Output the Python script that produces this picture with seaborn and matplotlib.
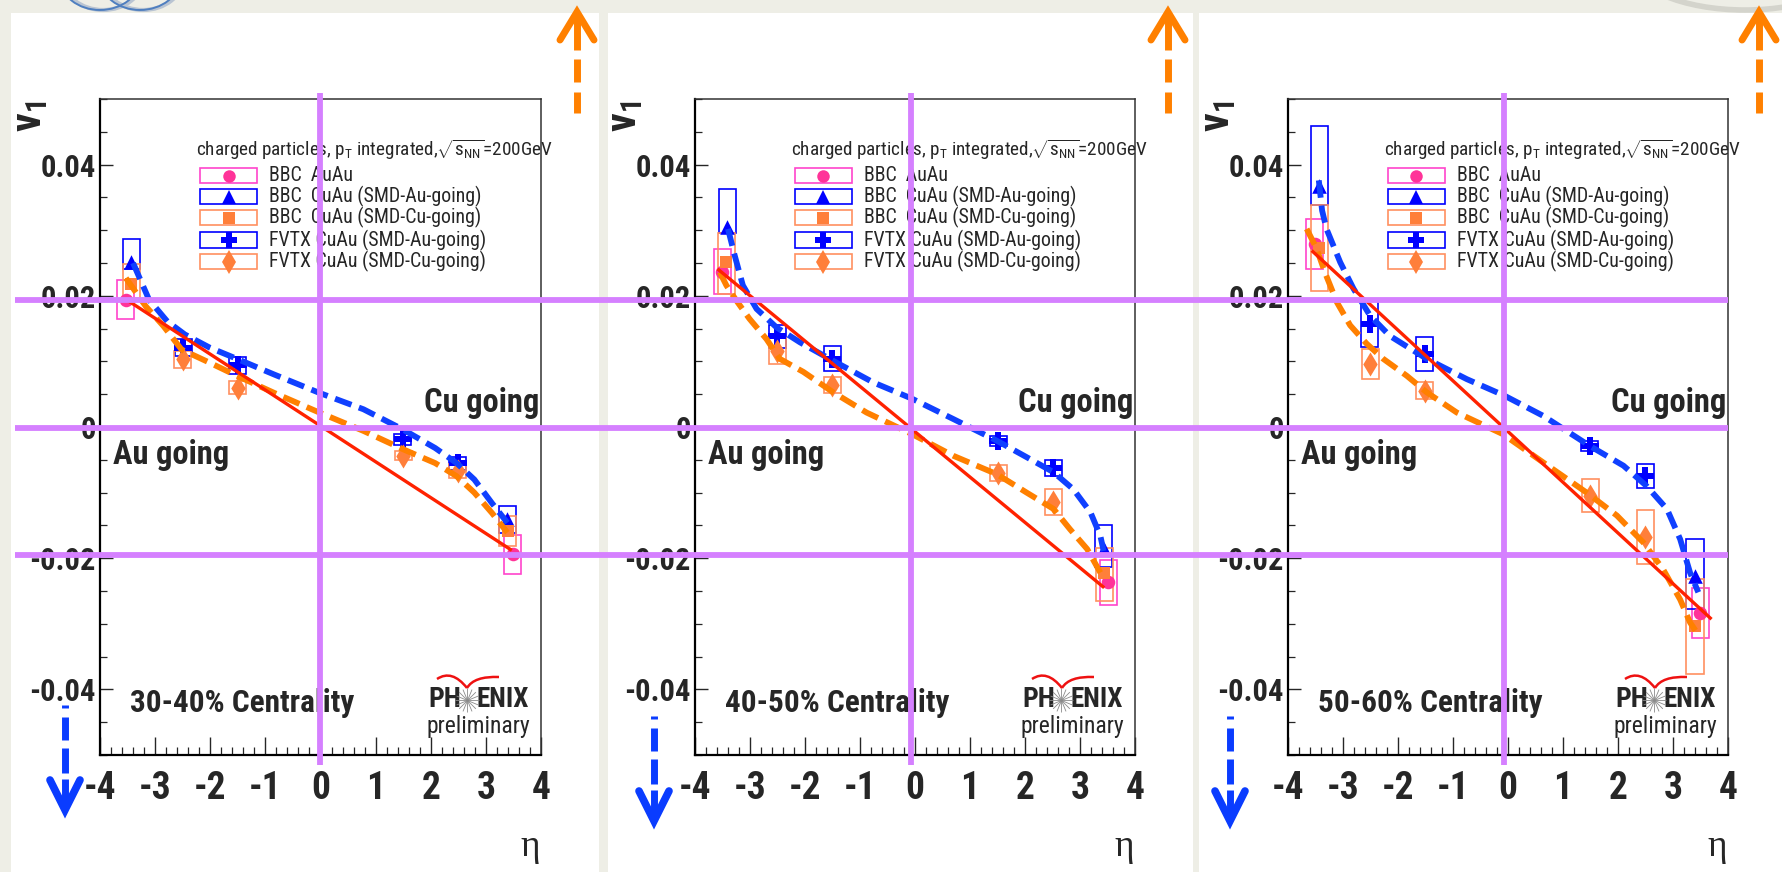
import matplotlib
matplotlib.use("Agg")
import matplotlib.pyplot as plt
from matplotlib import font_manager as fm
from matplotlib.patches import Rectangle, PathPatch, Ellipse
from matplotlib.path import Path
from matplotlib.lines import Line2D
from matplotlib.ticker import FixedLocator, FixedFormatter, MultipleLocator
import seaborn as sns

# ---------------------------------------------------------------- data
CENTRALITY = ["30-40% Centrality", "40-50% Centrality", "50-60% Centrality"]

# BBC AuAu (one list per centrality class)
ETA_BBC_AUAU = [[-3.53, 3.49], [-3.50, 3.51], [-3.51, 3.50]]
V1_BBC_AUAU = [[0.0194, -0.0194], [0.0237, -0.0237], [0.0279, -0.0283]]
SYS_BBC_AUAU = [[0.0030, 0.0030], [0.0035, 0.0035], [0.0038, 0.0038]]

# BBC CuAu, SMD Au-going
ETA_BBC_AU = [[-3.43, 3.39], [-3.41, 3.43], [-3.43, 3.40]]
V1_BBC_AU = [[0.0251, -0.0141], [0.0305, -0.0186], [0.0367, -0.0227]]
SYS_UP_BBC_AU = [[0.0035, 0.0020], [0.0058, 0.0036], [0.0092, 0.0056]]
SYS_DN_BBC_AU = [[0.0010, 0.0020], [0.0010, 0.0028], [0.0029, 0.0050]]

# BBC CuAu, SMD Cu-going
ETA_BBC_CU = [[-3.43, 3.40], [-3.43, 3.44], [-3.43, 3.40]]
V1_BBC_CU = [[0.0218, -0.0159], [0.0252, -0.0222], [0.0273, -0.0303]]
SYS_UP_BBC_CU = [[0.0031, 0.0023], [0.0043, 0.0038], [0.0065, 0.0071]]
SYS_DN_BBC_CU = [[0.0021, 0.0023], [0.0049, 0.0043], [0.0065, 0.0074]]

# FVTX CuAu, SMD Au-going
ETA_FVTX_AU = [[-2.49, -1.50, 1.49, 2.49], [-2.50, -1.50, 1.51, 2.51], [-2.51, -1.51, 1.49, 2.50]]
V1_FVTX_AU = [[0.0121, 0.0094, -0.0019, -0.0055], [0.0138, 0.0104, -0.0021, -0.0062],
              [0.0157, 0.0111, -0.0029, -0.0075]]
SYS_FVTX_AU = [[0.0013, 0.0013, 0.0008, 0.0010], [0.0017, 0.0019, 0.0008, 0.0012],
               [0.0035, 0.0026, 0.0008, 0.0018]]

# FVTX CuAu, SMD Cu-going
ETA_FVTX_CU = [[-2.50, -1.50, 1.50, 2.49], [-2.50, -1.50, 1.51, 2.51], [-2.50, -1.51, 1.50, 2.50]]
V1_FVTX_CU = [[0.0103, 0.0060, -0.0044, -0.0067], [0.0116, 0.0064, -0.0070, -0.0114],
              [0.0096, 0.0055, -0.0105, -0.0168]]
SYS_FVTX_CU = [[0.0013, 0.0010, 0.0007, 0.0011], [0.0020, 0.0012, 0.0012, 0.0020],
               [0.0023, 0.0013, 0.0025, 0.0041]]

# fit curves
FIT_AU_ETA = [
    [-3.40, -3.11, -2.78, -2.46, -2.01, -1.49, -0.84, -0.02, 0.78, 1.50, 2.08, 2.47, 2.79, 3.11, 3.39],
    [-3.40, -3.28, -3.13, -2.88, -2.52, -2.09, -1.49, -0.76, -0.05, 0.70, 1.49, 2.03, 2.52, 2.88, 3.19, 3.37, 3.43],
    [-3.44, -3.38, -3.30, -3.05, -2.81, -2.51, -2.15, -1.48, -0.75, -0.07, 0.64, 1.49, 2.10, 2.52, 2.89, 3.13, 3.31, 3.46],
]
FIT_AU_V1 = [
    [0.0250, 0.0194, 0.0161, 0.0141, 0.0121, 0.0103, 0.0080, 0.0052, 0.0027, -0.0004, -0.0032, -0.0055,
     -0.0080, -0.0116, -0.0146],
    [0.0302, 0.0262, 0.0216, 0.0180, 0.0152, 0.0129, 0.0101, 0.0068, 0.0043, 0.0012, -0.0021, -0.0046,
     -0.0069, -0.0095, -0.0130, -0.0166, -0.0189],
    [0.0376, 0.0330, 0.0302, 0.0251, 0.0211, 0.0170, 0.0139, 0.0104, 0.0073, 0.0048, 0.0017, -0.0029,
     -0.0059, -0.0090, -0.0125, -0.0171, -0.0222, -0.0252],
]
FIT_CU_ETA = [
    [-3.53, -3.17, -2.85, -2.52, -2.01, -1.49, -0.84, -0.02, 0.78, 1.50, 2.08, 2.47, 2.79, 3.11, 3.39],
    [-3.55, -3.43, -3.25, -3.01, -2.70, -2.46, -2.03, -1.49, -0.88, -0.05, 0.70, 1.49, 2.03, 2.52, 2.82, 3.13, 3.37],
    [-3.66, -3.48, -3.33, -3.11, -2.87, -2.57, -2.27, -1.84, -1.48, -0.93, -0.09, 0.64, 1.43, 1.98, 2.46,
     2.82, 3.13, 3.31, 3.43],
]
FIT_CU_V1 = [
    [0.0227, 0.0184, 0.0154, 0.0118, 0.0098, 0.0077, 0.0052, 0.0022, -0.0006, -0.0034, -0.0055, -0.0075,
     -0.0100, -0.0131, -0.0161],
    [0.0236, 0.0216, 0.0193, 0.0165, 0.0134, 0.0104, 0.0084, 0.0053, 0.0022, -0.0011, -0.0044, -0.0072,
     -0.0100, -0.0125, -0.0156, -0.0186, -0.0222],
    [0.0302, 0.0272, 0.0236, 0.0190, 0.0155, 0.0127, 0.0104, 0.0078, 0.0053, 0.0022, -0.0011, -0.0054,
     -0.0100, -0.0135, -0.0176, -0.0217, -0.0263, -0.0298, -0.0313],
]
FIT_AUAU_ETA = [[-3.50, 3.47], [-3.59, 3.44], [-3.57, 3.70]]
FIT_AUAU_V1 = [[0.0193, -0.0188], [0.0241, -0.0245], [0.0269, -0.0293]]

X_TICKS = [-4, -3, -2, -1, 0, 1, 2, 3, 4]
X_TICKLABELS = ["-4", "-3", "-2", "-1", "0", "1", "2", "3", "4"]
Y_TICKS = [-0.04, -0.02, 0.0, 0.02, 0.04]
Y_TICKLABELS = ["-0.04", "-0.02", "0", "0.02", "0.04"]

LEGEND_TITLE = r"charged particles, p$_{T}$ integrated,$\sqrt{s_{NN}}$=200GeV"
LEGEND_LABELS = ["BBC  AuAu", "BBC  CuAu (SMD-Au-going)", "BBC  CuAu (SMD-Cu-going)",
                 "FVTX CuAu (SMD-Au-going)", "FVTX CuAu (SMD-Cu-going)"]


# ---------------------------------------------------------------- style
def first_font(candidates):
    for name in candidates:
        try:
            fm.findfont(fm.FontProperties(family=name), fallback_to_default=False)
            return name
        except ValueError:
            continue
    return "Liberation Sans"


SANS = first_font(["Roboto Condensed", "Liberation Sans Narrow", "Liberation Sans"])
# narrow faces take the nominal sizes; a regular face is set smaller to keep the widths
K = 1.0 if SANS != "Liberation Sans" else 0.86

sns.set_style("ticks")
plt.rcParams["font.family"] = [SANS, "Liberation Sans", "DejaVu Sans"]
plt.rcParams["mathtext.fontset"] = "custom"
plt.rcParams["mathtext.rm"] = SANS
plt.rcParams["mathtext.it"] = SANS
plt.rcParams["mathtext.bf"] = SANS + ":bold"

PAGE = "#eeeee6"
PINK = "#ff3399"
PINK_BOX = "#ff44cc"
BLUE = "#0000ff"
BLUE_FIT = "#1040ff"
ORANGE = "#ff7f3a"
ORANGE_BOX = "#ff9060"
ORANGE_FIT = "#ff8000"
RED = "#ff2200"
PURPLE = "#d580ff"
ARROW_BLUE = "#0a3cff"
ARROW_ORANGE = "#ff8000"

W, H = 1783, 872
fig = plt.figure(figsize=(W / 100, H / 100), dpi=100)
fig.patch.set_facecolor(PAGE)


def fx(px):
    return px / W


def fy(py):
    return 1 - py / H


def fig_line(xs, ys, **kw):
    fig.add_artist(Line2D([fx(x) for x in xs], [fy(y) for y in ys],
                          transform=fig.transFigure, **kw))


PANEL_BG = [(11, 599), (608, 1193), (1199, 1783)]
AX_X = [(100, 541), (695, 1135), (1288, 1728)]
AX_TOP, AX_BOT = 99, 755
ZERO_LINE_X = [320, 911, 1504]
UP_ARROW_X = [577, 1168, 1759]
DOWN_ARROW_X = [65, 654, 1230]
DOWN_ARROW_TIP = [810, 821, 821]

# slide header: edges of the logos peeking in above the panels
for cx, col, lw in [(103, "#b9c4d2", 3.0), (143, "#b9c4d2", 3.0), (100, "#4f7fbf", 1.4), (140, "#4f7fbf", 1.4)]:
    fig.add_artist(Ellipse((fx(cx), fy(-22)), 80 / W, 64 / H, transform=fig.transFigure,
                           fill=False, edgecolor=col, lw=lw, zorder=-6))
fig.add_artist(Ellipse((fx(1745), fy(-40)), 230 / W, 100 / H, transform=fig.transFigure,
                       fill=False, edgecolor="#d4d4cc", lw=4, zorder=-6))

for (x0, x1) in PANEL_BG:
    fig.add_artist(Rectangle((fx(x0), 0), fx(x1) - fx(x0), fy(13), transform=fig.transFigure,
                             facecolor="white", edgecolor="none", zorder=-5))

BW = 0.155  # half width of systematic boxes in eta


def boxes(ax, eta, v1, up, dn, color):
    for e, v, u, d in zip(eta, v1, up, dn):
        ax.add_patch(Rectangle((e - BW, v - d), 2 * BW, u + d, fill=False,
                               edgecolor=color, lw=1.2, zorder=2))


def points(ax, eta, v1, marker, size, color):
    sns.scatterplot(x=eta, y=v1, ax=ax, marker=marker, s=size, color=color,
                    linewidth=0, zorder=3, legend=False)


def curve(ax, eta, v1, color, lw, dashed):
    sns.lineplot(x=eta, y=v1, ax=ax, color=color, lw=lw, sort=False, estimator=None,
                 legend=False, zorder=4)
    ln = ax.lines[-1]
    if dashed:
        ln.set_dashes((3.0, 1.35))
    ln.set_solid_capstyle("butt")
    ln.set_dash_capstyle("butt")


for i in range(3):
    lpx, rpx = AX_X[i]
    ax = fig.add_axes([fx(lpx), fy(AX_BOT), fx(rpx - lpx), (AX_BOT - AX_TOP) / H])
    ax.set_facecolor("none")
    ax.set_xlim(-4, 4)
    ax.set_ylim(-0.05, 0.05)

    for side in ["left", "bottom"]:
        ax.spines[side].set_linewidth(1.6)
        ax.spines[side].set_color("black")
    for side in ["top", "right"]:
        ax.spines[side].set_linewidth(1.1)
        ax.spines[side].set_color("#333333")

    ax.xaxis.set_major_locator(FixedLocator(X_TICKS))
    ax.xaxis.set_major_formatter(FixedFormatter(X_TICKLABELS))
    ax.xaxis.set_minor_locator(MultipleLocator(0.2))
    ax.yaxis.set_major_locator(FixedLocator(Y_TICKS))
    ax.yaxis.set_major_formatter(FixedFormatter(Y_TICKLABELS))
    ax.yaxis.set_minor_locator(MultipleLocator(0.005))
    ax.tick_params(axis="x", which="major", direction="in", length=13, width=1.0,
                   labelsize=27 * K, pad=11, top=False)
    ax.tick_params(axis="x", which="minor", direction="in", length=6, width=0.9, top=False)
    ax.tick_params(axis="y", which="major", direction="in", length=9.5, width=1.0,
                   labelsize=22 * K, pad=3, right=False)
    ax.tick_params(axis="y", which="minor", direction="in", length=4.8, width=0.9, right=False)
    for lab in ax.get_xticklabels() + ax.get_yticklabels():
        lab.set_fontweight("bold")
    ax.set_xlabel("")
    ax.set_ylabel("")

    # systematic boxes
    boxes(ax, ETA_BBC_AUAU[i], V1_BBC_AUAU[i], SYS_BBC_AUAU[i], SYS_BBC_AUAU[i], PINK_BOX)
    boxes(ax, ETA_BBC_AU[i], V1_BBC_AU[i], SYS_UP_BBC_AU[i], SYS_DN_BBC_AU[i], BLUE)
    boxes(ax, ETA_BBC_CU[i], V1_BBC_CU[i], SYS_UP_BBC_CU[i], SYS_DN_BBC_CU[i], ORANGE_BOX)
    boxes(ax, ETA_FVTX_AU[i], V1_FVTX_AU[i], SYS_FVTX_AU[i], SYS_FVTX_AU[i], BLUE)
    boxes(ax, ETA_FVTX_CU[i], V1_FVTX_CU[i], SYS_FVTX_CU[i], SYS_FVTX_CU[i], ORANGE_BOX)

    # points
    points(ax, ETA_BBC_AUAU[i], V1_BBC_AUAU[i], "o", 95, PINK)
    points(ax, ETA_BBC_AU[i], V1_BBC_AU[i], "^", 110, BLUE)
    points(ax, ETA_BBC_CU[i], V1_BBC_CU[i], "s", 85, ORANGE)
    points(ax, ETA_FVTX_AU[i], V1_FVTX_AU[i], "P", 160, BLUE)
    points(ax, ETA_FVTX_CU[i], V1_FVTX_CU[i], "d", 150, ORANGE)

    # fits
    curve(ax, FIT_AU_ETA[i], FIT_AU_V1[i], BLUE_FIT, 4.2, True)
    curve(ax, FIT_CU_ETA[i], FIT_CU_V1[i], ORANGE_FIT, 4.2, True)
    curve(ax, FIT_AUAU_ETA[i], FIT_AUAU_V1[i], RED, 2.4, False)

    # texts
    ax.text(0.03, 0.457, "Au going", transform=ax.transAxes, fontsize=23.5 * K, fontweight="bold",
            ha="left", va="center")
    ax.text(0.995, 0.537, "Cu going", transform=ax.transAxes, fontsize=23.5 * K, fontweight="bold",
            ha="right", va="center")
    ax.text(0.068, 0.079, CENTRALITY[i], transform=ax.transAxes, fontsize=22.5 * K, fontweight="bold",
            ha="left", va="center")

    # legend
    ax.text(0.218, 0.922, LEGEND_TITLE, transform=ax.transAxes, fontsize=13.8 * K,
            ha="left", va="center")
    leg_y = [0.883, 0.851, 0.819, 0.785, 0.752]
    leg_style = [("o", PINK, PINK_BOX, 9), ("^", BLUE, BLUE, 10), ("s", ORANGE, ORANGE_BOX, 9),
                 ("P", BLUE, BLUE, 12), ("d", ORANGE, ORANGE_BOX, 12)]
    for y, lab, (mk, mc, bc, ms) in zip(leg_y, LEGEND_LABELS, leg_style):
        ax.add_patch(Rectangle((0.227, y - 0.0115), 0.129, 0.023, transform=ax.transAxes,
                               fill=False, edgecolor=bc, lw=1.2, zorder=5))
        ax.plot([0.2915], [y], marker=mk, ms=ms, color=mc, mew=0, transform=ax.transAxes,
                zorder=6, clip_on=False)
        ax.text(0.383, y, lab, transform=ax.transAxes, fontsize=14.3 * K, ha="left", va="center")

    # experiment tag
    ax.text(0.744, 0.084, "PH", transform=ax.transAxes, fontsize=20 * K, fontweight="bold",
            ha="left", va="center")
    ax.text(0.853, 0.084, "ENIX", transform=ax.transAxes, fontsize=19.5 * K, fontweight="bold",
            ha="left", va="center")
    ax.text(0.857, 0.044, "preliminary", transform=ax.transAxes, fontsize=17 * K,
            ha="center", va="center")
    sx, sy = 0.832, 0.084
    for k in range(8):
        ax.plot([sx], [sy], marker=(2, 0, 22.5 * k), ms=17, mew=0.6, color="#8a8a8a",
                transform=ax.transAxes, clip_on=False, zorder=6)

    # eta label
    ax.text(0.997, -0.14, "η", transform=ax.transAxes, fontsize=27, family="Liberation Serif",
            ha="right", va="center")

    # red swoosh above the tag
    ox = lpx - 100
    verts = [(437 + ox, 679), (452 + ox, 669), (467 + ox, 688),
             (467 + ox, 688), (474 + ox, 676), (499 + ox, 677)]
    path = Path([(fx(x), fy(y)) for x, y in verts],
                [Path.MOVETO, Path.CURVE3, Path.CURVE3, Path.MOVETO, Path.CURVE3, Path.CURVE3])
    fig.add_artist(PathPatch(path, transform=fig.transFigure, fill=False, edgecolor="#ee1111",
                             lw=1.8, zorder=6))

    # v1 axis title
    fig.text(fx(lpx - 70), fy(116), r"$\mathbf{v_1}$", rotation=90, fontsize=30,
             ha="center", va="center")

# reference lines across the three panels
for py in [300, 428, 555]:
    fig_line([15, 1728], [py, py], color=PURPLE, lw=4.2, zorder=8, solid_capstyle="butt")
for px in ZERO_LINE_X:
    fig_line([px, px], [93, 765], color=PURPLE, lw=4.2, zorder=8, solid_capstyle="butt")

# direction arrows
for px in UP_ARROW_X:
    for (y0, y1) in [(113, 92), (82, 59), (50, 16)]:
        fig_line([px, px], [y0, y1], color=ARROW_ORANGE, lw=5, zorder=9, solid_capstyle="butt")
    fig_line([px - 17, px, px + 17], [40, 12, 40], color=ARROW_ORANGE, lw=5, zorder=9,
             solid_capstyle="round", solid_joinstyle="miter")

for px, tip in zip(DOWN_ARROW_X, DOWN_ARROW_TIP):
    top = tip - 105
    for (y0, y1) in [(top, top + 3), (top + 12, top + 35), (top + 43, top + 68), (top + 74, tip - 6)]:
        fig_line([px, px], [y0, y1], color=ARROW_BLUE, lw=5, zorder=9, solid_capstyle="butt")
    fig_line([px - 15, px, px + 15], [tip - 30, tip, tip - 30], color=ARROW_BLUE, lw=5.5, zorder=9,
             solid_capstyle="round", solid_joinstyle="miter")

fig.savefig("out.png", dpi=100, facecolor=fig.get_facecolor())
